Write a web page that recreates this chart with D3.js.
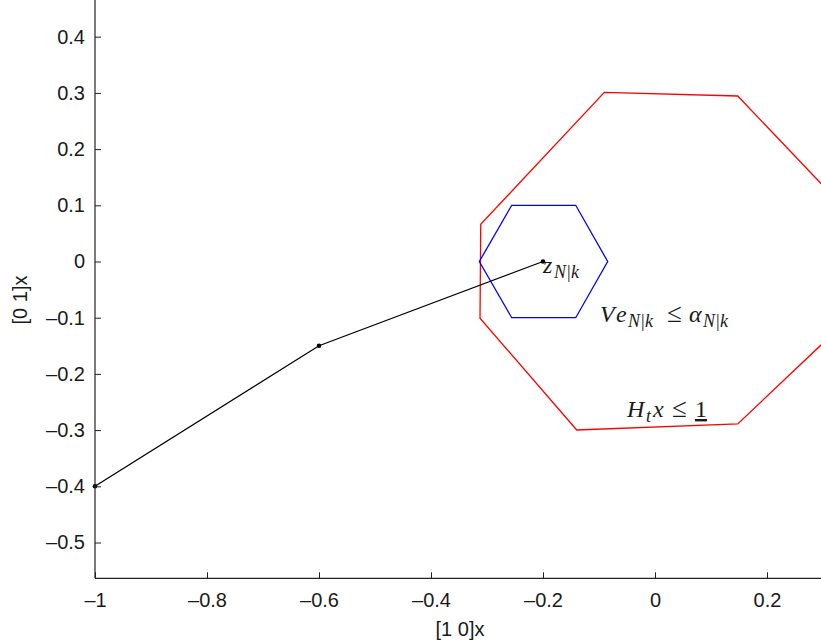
<!DOCTYPE html>
<html>
<head>
<meta charset="utf-8">
<script src="https://cdn.jsdelivr.net/npm/d3@7"></script>
<style>
  html, body { margin: 0; padding: 0; background: #fff; }
  svg { display: block; }
  .tick text { font-family: "Liberation Sans", Arial, sans-serif; font-size: 20px; fill: #1a1a1a; }
  .math { font-family: "Liberation Serif", "DejaVu Serif", serif; font-style: italic; fill: #1a1a1a; }
</style>
</head>
<body>
<svg id="chart" width="821" height="644"></svg>
<script>
// Trajectory of the nominal state (black, with vertex dots)
const trajX = [-1, -0.6, -0.2];
const trajY = [-0.4, -0.15, 0];

// Terminal set H_t x <= 1 (red polygon)
const terminalX = [-0.0905, 0.1477, 0.30, 0.30, 0.1477, -0.1398, -0.3125, -0.3112];
const terminalY = [0.301, 0.2945, 0.135, -0.1452, -0.289, -0.2998, -0.101, 0.0662];

// Error tube V e <= alpha (blue hexagon around z_{N|k})
const tubeX = [-0.3137, -0.2559, -0.1416, -0.0845, -0.1416, -0.2559];
const tubeY = [0, 0.1, 0.1, 0, -0.1, -0.1];

// Axis ticks
const xTicks = [-1, -0.8, -0.6, -0.4, -0.2, 0, 0.2];
const yTicks = [-0.5, -0.4, -0.3, -0.2, -0.1, 0, 0.1, 0.2, 0.3, 0.4];

const xDomain = [-1, 0.2964];
const yDomain = [-0.5637, 0.4653];

const svg = d3.select("#chart");
const pLeft = 95, pRight = 821, pTop = 0, pBottom = 578.3;

const x = d3.scaleLinear().domain(xDomain).range([pLeft, pRight]);
const y = d3.scaleLinear().domain(yDomain).range([pBottom, pTop]);

const fmt = v => {
  const s = Math.abs(v) < 1e-9 ? "0" : String(+v.toFixed(2));
  return s.replace("-", "\u2013");
};

svg.append("defs").append("clipPath").attr("id", "plotClip")
  .append("rect").attr("x", pLeft).attr("y", pTop)
  .attr("width", pRight - pLeft).attr("height", pBottom - pTop);

const plot = svg.append("g").attr("clip-path", "url(#plotClip)");

const line = d3.line().x(d => x(d[0])).y(d => y(d[1]));
const closed = d3.line().x(d => x(d[0])).y(d => y(d[1])).curve(d3.curveLinearClosed);

// Terminal set
plot.append("path")
  .datum(terminalX.map((v, i) => [v, terminalY[i]]))
  .attr("d", closed).attr("fill", "none")
  .attr("stroke", "#ff0000").attr("stroke-width", 1.3);

// Tube cross-section
plot.append("path")
  .datum(tubeX.map((v, i) => [v, tubeY[i]]))
  .attr("d", closed).attr("fill", "none")
  .attr("stroke", "#0000ff").attr("stroke-width", 1.3);

// Trajectory
const traj = trajX.map((v, i) => [v, trajY[i]]);
plot.append("path").datum(traj).attr("d", line)
  .attr("fill", "none").attr("stroke", "#000").attr("stroke-width", 1.2);
svg.selectAll("circle.pt").data(traj).join("circle")
  .attr("class", "pt").attr("cx", d => x(d[0])).attr("cy", d => y(d[1]))
  .attr("r", 2.3).attr("fill", "#000");

// Axes (ticks drawn inward)
const xAxis = d3.axisBottom(x).tickValues(xTicks).tickFormat(fmt)
  .tickSizeInner(-6).tickSizeOuter(0).tickPadding(15);
const yAxis = d3.axisLeft(y).tickValues(yTicks).tickFormat(fmt)
  .tickSizeInner(-6).tickSizeOuter(0).tickPadding(10);

const gx = svg.append("g").attr("transform", `translate(0,${pBottom})`).call(xAxis);
const gy = svg.append("g").attr("transform", `translate(${pLeft},0)`).call(yAxis);
[gx, gy].forEach(g => {
  g.select(".domain").attr("stroke", "#222").attr("stroke-width", 1.2);
  g.selectAll(".tick line").attr("stroke", "#222").attr("stroke-width", 1);
});
gx.select(".domain").attr("d", `M${pLeft},0H${pRight}`);
gy.select(".domain").attr("d", `M0,${pTop}V${pBottom}`);

// Axis labels
svg.append("text").attr("x", 460).attr("y", 636)
  .attr("text-anchor", "middle")
  .style("font-family", "Liberation Sans, Arial, sans-serif").style("font-size", "20px")
  .attr("fill", "#1a1a1a").text("[1 0]x");
svg.append("text")
  .attr("transform", "translate(27,300) rotate(-90)")
  .attr("text-anchor", "middle")
  .style("font-family", "Liberation Sans, Arial, sans-serif").style("font-size", "20px")
  .attr("fill", "#1a1a1a").text("[0 1]x");

// Math annotations: each piece placed at its own x, main or subscript baseline
const mainSize = 24, subSize = 18, relSize = 27;
function label(baseline, parts) {
  const t = svg.append("text").attr("class", "math");
  parts.forEach(p => {
    const size = p.sub ? subSize : (p.rel ? relSize : mainSize);
    const s = t.append("tspan").text(p.t)
      .attr("x", p.x).attr("y", baseline + (p.sub ? 5 : 0))
      .style("font-size", size + "px");
    if (p.upright || p.rel) s.style("font-style", "normal").style("font-weight", "normal");
    if (p.under) s.style("text-decoration", "underline");
  });
  return t;
}

label(273, [{t: "z", x: 543}, {t: "N|k", x: 554, sub: true}]);
label(322, [
  {t: "V", x: 600}, {t: "e", x: 616}, {t: "N|k", x: 628, sub: true},
  {t: "\u2264", x: 667, rel: true}, {t: "\u03B1", x: 689}, {t: "N|k", x: 703, sub: true}
]);
label(417, [
  {t: "H", x: 627}, {t: "t", x: 646, sub: true}, {t: "x", x: 653},
  {t: "\u2264", x: 672, rel: true}, {t: "1", x: 695, upright: true, under: true}
]);
</script>
</body>
</html>
